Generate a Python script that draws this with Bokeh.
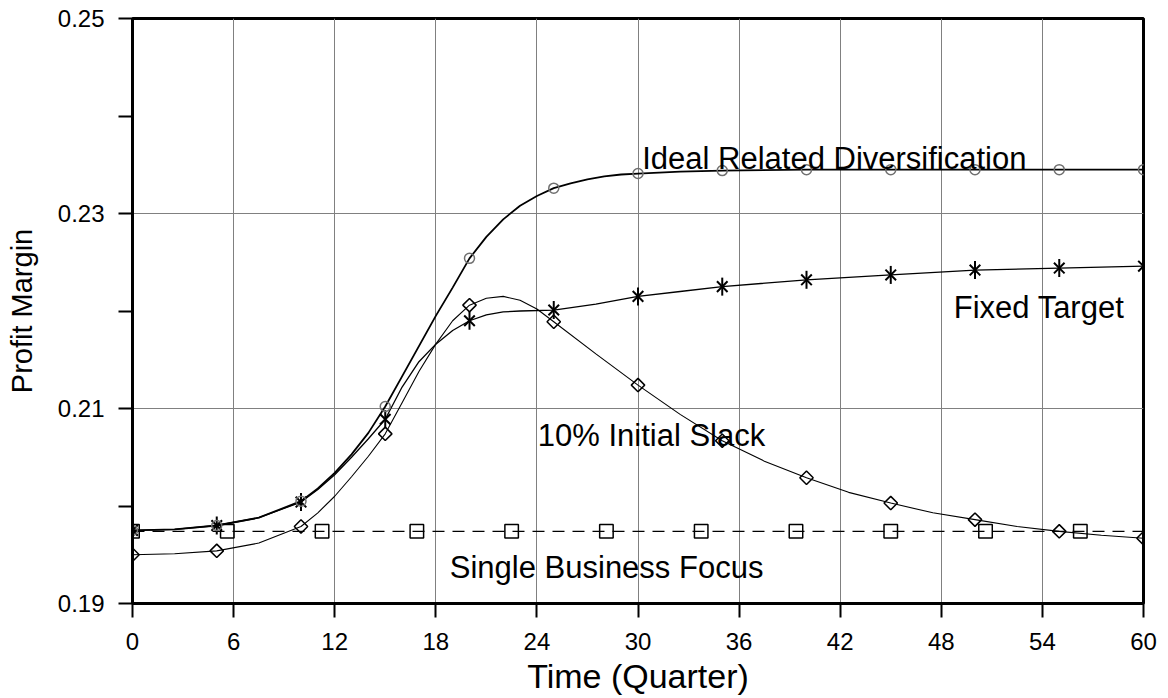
from bokeh.plotting import figure
from bokeh.models import Range1d, FixedTicker, PrintfTickFormatter, Label
from bokeh.embed import file_html
from bokeh.resources import INLINE
import math

# ---------------- data ----------------
marker_t = [0, 5, 10, 15, 20, 25, 30, 35, 40, 45, 50, 55, 60]
ideal_pts = [0.1975, 0.1980, 0.2005, 0.2102, 0.2254, 0.2326, 0.2341, 0.2344, 0.2345, 0.2345, 0.2345, 0.2345, 0.2345]
fixed_pts = [0.1975, 0.1980, 0.2004, 0.2089, 0.2190, 0.2201, 0.2215, 0.2225, 0.2232, 0.2237, 0.2242, 0.2244, 0.2246]
slack_pts = [0.1950, 0.1954, 0.1979, 0.2074, 0.2206, 0.2189, 0.2124, 0.2067, 0.2029, 0.2003, 0.1986, 0.1974, 0.1967]

single_t = [0, 5.625, 11.25, 16.875, 22.5, 28.125, 33.75, 39.375, 45, 50.625, 56.25]
single_pts = [0.1974, 0.1974, 0.1974, 0.1974, 0.1974, 0.1974, 0.1974, 0.1974, 0.1974, 0.1974, 0.1974]
single_line_t = [0, 60]
single_line = [0.1974, 0.1974]

ideal_line_t = [0, 2.5, 5, 7.5, 10, 11, 12, 13, 14, 15, 16, 17, 18, 19, 20, 21, 22, 23, 24, 25, 26, 27, 28, 29, 30,
                32.5, 35, 40, 45, 50, 55, 60]
ideal_line = [0.1975, 0.1976, 0.1980, 0.1988, 0.2005, 0.2018, 0.2034, 0.2053, 0.2075, 0.2102, 0.2133, 0.2164, 0.2195, 0.2224,
              0.2254, 0.2276, 0.2294, 0.2308, 0.2318, 0.2326, 0.2331, 0.2335, 0.2338, 0.2340, 0.2341,
              0.2343, 0.2344, 0.2345, 0.2345, 0.2345, 0.2345, 0.2345]

fixed_line_t = [0, 2.5, 5, 7.5, 10, 11, 12, 13, 14, 15, 16, 17, 18, 19, 20, 21, 22, 23, 25, 27.5, 30, 32.5, 35, 40, 45, 50, 55, 60]
fixed_line = [0.1975, 0.1976, 0.1980, 0.1988, 0.2004, 0.2017, 0.2032, 0.2050, 0.2069, 0.2089, 0.2122, 0.2148, 0.2166, 0.2180,
              0.2190, 0.2196, 0.2199, 0.2200, 0.2201, 0.2207, 0.2215, 0.2220, 0.2225, 0.2232, 0.2237, 0.2242, 0.2244, 0.2246]

slack_line_t = [0, 2.5, 5, 7.5, 10, 11, 12, 13, 14, 15, 16, 17, 18, 19, 20, 21, 22, 23, 24, 25, 27.5, 30, 32.5, 35, 37.5,
                40, 42.5, 45, 47.5, 50, 52.5, 55, 57.5, 60]
slack_line = [0.1950, 0.1951, 0.1954, 0.1962, 0.1979, 0.1993, 0.2010, 0.2030, 0.2051, 0.2074, 0.2106, 0.2138, 0.2166, 0.2190,
              0.2206, 0.2213, 0.2215, 0.2211, 0.2202, 0.2189, 0.2156, 0.2124, 0.2094, 0.2067, 0.2046,
              0.2029, 0.2014, 0.2003, 0.1993, 0.1986, 0.1979, 0.1974, 0.1970, 0.1967]

x_ticks = [0, 6, 12, 18, 24, 30, 36, 42, 48, 54, 60]
y_ticks = [0.19, 0.21, 0.23, 0.25]
y_minor_ticks = [0.20, 0.22, 0.24]

label_texts = ["Ideal Related Diversification", "Fixed Target", "10% Initial Slack", "Single Business Focus"]
label_x = [30.25, 48.74, 24.05, 18.83]
label_y = [0.2356, 0.2204, 0.2072, 0.19372]

FONT = "Liberation Sans"

p = figure(width=1160, height=698, output_backend="svg", toolbar_location=None,
           x_range=Range1d(0, 60), y_range=Range1d(0.19, 0.25),
           min_border_left=132, min_border_right=17, min_border_top=18, min_border_bottom=95)
p.background_fill_color = "white"
p.border_fill_color = "white"
p.outline_line_color = "black"
p.outline_line_width = 3

# axes
p.xaxis.ticker = FixedTicker(ticks=x_ticks, minor_ticks=[])
p.yaxis.ticker = FixedTicker(ticks=y_ticks, minor_ticks=y_minor_ticks)
p.xaxis.formatter = PrintfTickFormatter(format="%d")
p.yaxis.formatter = PrintfTickFormatter(format="%.2f")
for ax in (p.xaxis[0], p.yaxis[0]):
    ax.axis_line_width = 3
    ax.axis_line_color = "black"
    ax.major_tick_line_width = 2
    ax.major_tick_line_color = "black"
    ax.major_tick_in = 0
    ax.major_tick_out = 14
    ax.minor_tick_line_width = 2
    ax.minor_tick_line_color = "black"
    ax.minor_tick_in = 0
    ax.minor_tick_out = 14
    ax.major_label_text_font = FONT
    ax.major_label_text_font_size = "24px"
    ax.major_label_text_color = "black"
    ax.axis_label_text_font = FONT
    ax.axis_label_text_font_style = "normal"
    ax.axis_label_text_color = "black"

p.xaxis.axis_label = "Time (Quarter)"
p.xaxis.axis_label_text_font_size = "34px"
p.xaxis.major_label_standoff = 15
p.xaxis.axis_label_standoff = 4
p.yaxis.axis_label = "Profit Margin"
p.yaxis.axis_label_text_font_size = "29px"
p.yaxis.major_label_standoff = 14
p.yaxis.axis_label_standoff = 17

# grid
p.xgrid.grid_line_color = "#808080"
p.xgrid.grid_line_width = 1
p.ygrid.grid_line_color = "#808080"
p.ygrid.grid_line_width = 1

# Single Business Focus (dashed, squares)
p.line(single_line_t, single_line, line_color="black", line_width=1.2, line_dash="12 8")
p.scatter(single_t, single_pts, marker="square", size=13.5, fill_alpha=0, line_color="black", line_width=1.5)

# 10% Initial Slack (diamonds)
p.line(slack_line_t, slack_line, line_color="black", line_width=1.1)
p.scatter(marker_t, slack_pts, marker="square", angle=math.pi / 4, size=9.5, fill_alpha=0,
          line_color="black", line_width=1.5)

# Fixed Target (asterisks)
p.line(fixed_line_t, fixed_line, line_color="black", line_width=1.3)
p.scatter(marker_t, fixed_pts, marker="x", size=15, line_color="black", line_width=2)
p.scatter(marker_t, fixed_pts, marker="dash", angle=math.pi / 2, size=18, line_color="black", line_width=2)

# Ideal Related Diversification (circles)
p.line(ideal_line_t, ideal_line, line_color="black", line_width=1.8)
p.scatter(marker_t, ideal_pts, marker="circle", size=10, fill_alpha=0, line_color="#707070", line_width=1.5)

# curve labels
for txt, lx, ly in zip(label_texts, label_x, label_y):
    p.add_layout(Label(x=lx, y=ly, text=txt, text_font=FONT, text_font_size="31px",
                       text_color="black", text_align="left", text_baseline="alphabetic"))

open("out.html", "w").write(file_html(p, INLINE))
